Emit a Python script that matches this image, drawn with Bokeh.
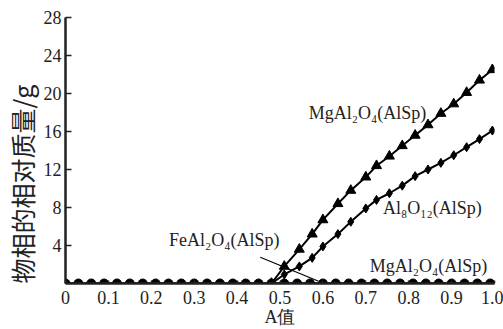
from bokeh.plotting import figure
from bokeh.models import Range1d, FixedTicker, Label, Title
from bokeh.embed import file_html
from bokeh.resources import INLINE

# ---- data ----
circle_x = [0.0, 0.03, 0.06, 0.09, 0.12, 0.15, 0.18, 0.21, 0.24, 0.27, 0.30, 0.33,
            0.36, 0.39, 0.42, 0.45, 0.48, 0.51, 0.54, 0.57, 0.60, 0.63, 0.66, 0.69,
            0.72, 0.75, 0.78, 0.81, 0.84, 0.87, 0.90, 0.93, 0.96, 0.99]
circle_y = [0.0] * len(circle_x)
base_line_x = [0.0, 1.0]
base_line_y = [0.0, 0.0]

grow_x = [0.48, 0.51, 0.545, 0.575, 0.60, 0.635, 0.665, 0.70, 0.725, 0.755,
          0.785, 0.815, 0.845, 0.875, 0.905, 0.935, 0.965, 0.995]
mgal_y = [0.0, 1.8, 3.6, 5.2, 6.7, 8.4, 9.8, 11.2, 12.4, 13.4,
          14.5, 15.6, 16.7, 17.9, 18.9, 20.1, 21.4, 22.5]
al8_y = [0.0, 0.95, 1.8, 2.7, 3.9, 5.2, 6.5, 7.9, 8.8, 9.5,
         10.3, 11.3, 12.0, 12.7, 13.5, 14.35, 15.2, 16.1]

x_ticks = [0, 0.1, 0.2, 0.3, 0.4, 0.5, 0.6, 0.7, 0.8, 0.9, 1.0]
x_tick_labels = ["0", "0.1", "0.2", "0.3", "0.4", "0.5", "0.6", "0.7", "0.8", "0.9", "1.0"]
y_ticks = [4, 8, 12, 16, 20, 24, 28]

leader_x = [0.454, 0.59]
leader_y = [2.77, 0.24]

labels = [
    ("MgAl\u2082O\u2084(AlSp)", 0.567, 17.9),
    ("Al\u2088O\u2081\u2082(AlSp)", 0.74, 7.9),
    ("FeAl\u2082O\u2084(AlSp)", 0.241, 4.6),
    ("MgAl\u2082O\u2084(AlSp)", 0.709, 1.8),
]

SERIF = "Liberation Serif"
CJK = "Noto Sans CJK SC"

p = figure(width=503, height=329, output_backend="svg", toolbar_location=None,
           x_range=Range1d(0, 1.0), y_range=Range1d(0, 28),
           min_border_left=63, min_border_right=9, min_border_top=17, min_border_bottom=45)
p.outline_line_color = None
p.xgrid.visible = False
p.ygrid.visible = False
p.background_fill_color = "white"
p.border_fill_color = "white"

p.axis.axis_line_width = 2.5
p.axis.axis_line_color = "#222222"
p.axis.major_tick_line_color = "#222222"
p.axis.major_tick_line_width = 1.5
p.axis.minor_tick_line_color = None
p.axis.major_label_text_font_size = "18px"
p.axis.major_label_text_color = "#222222"
p.axis.major_label_text_font = SERIF

p.xaxis.ticker = FixedTicker(ticks=x_ticks)
p.xaxis.major_label_overrides = {t: l for t, l in zip(x_ticks, x_tick_labels)}
p.xaxis.major_tick_in = 3
p.xaxis.major_tick_out = 0
p.xaxis.major_label_standoff = 7
p.xaxis.axis_label = "A值"
p.xaxis.axis_label_text_font = SERIF
p.xaxis.axis_label_text_font_style = "normal"
p.xaxis.axis_label_text_font_size = "18px"
p.xaxis.axis_label_text_color = "#222222"
p.xaxis.axis_label_standoff = 0

p.yaxis.ticker = FixedTicker(ticks=y_ticks)
p.yaxis.major_tick_in = 6
p.yaxis.major_tick_out = 0
p.yaxis.major_label_standoff = 4

ytitle = Title(text="物相的相对质量/g", align="left", offset=0,
               text_font=CJK, text_font_size="25px", text_font_style="normal",
               text_color="#222222", standoff=2)
p.add_layout(ytitle, "left")

# lines and markers
p.line(base_line_x, base_line_y, line_color="black", line_width=2.5)
p.scatter(circle_x, circle_y, marker="circle", size=9, fill_color="black", line_color="black")

p.line(grow_x, mgal_y, line_color="black", line_width=2)
p.scatter(grow_x, mgal_y, marker="triangle", size=10, fill_color="black", line_color="black")

p.line(grow_x, al8_y, line_color="black", line_width=2)
p.scatter(grow_x, al8_y, marker="diamond", size=9, fill_color="black", line_color="black")

p.line(leader_x, leader_y, line_color="black", line_width=1.2)

for txt, lx, ly in labels:
    p.add_layout(Label(x=lx, y=ly, text=txt, text_font=SERIF, text_font_size="18px",
                       text_color="#222222", text_baseline="middle", text_align="left"))

open("out.html", "w").write(file_html(p, INLINE))
